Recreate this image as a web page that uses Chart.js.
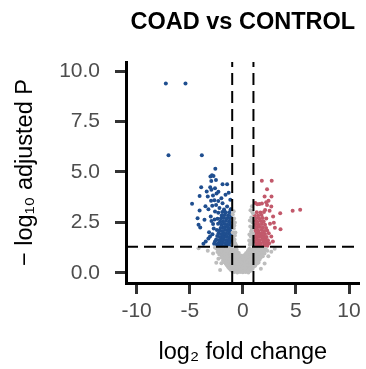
<!DOCTYPE html>
<html>
<head>
<meta charset="utf-8">
<script src="https://cdn.jsdelivr.net/npm/chart.js@4.4.1/dist/chart.umd.min.js"></script>
<style>
  body { margin: 0; background: #ffffff; }
  #wrap { width: 366px; height: 369px; }
</style>
</head>
<body>
<div id="wrap"><canvas id="volcano" width="366" height="369"></canvas></div>
<script>
// axis ranges and ticks
const xMin = -11, xMax = 11;
const yMin = -0.5, yMax = 10.45;
const xTicks = [-10, -5, 0, 5, 10];
const yTicks = [0, 2.5, 5, 7.5, 10];

// cut-offs: |log2FC| = 1 and adjusted p = 0.05
const fcCut = 1;
const pCut = 1.3;

// [log2 fold change, -log10 adjusted p]
const downRegulated = [
    [-7.25, 9.39], [-5.40, 9.39], [-7.00, 5.83], [-3.86, 5.83],
    [-2.59, 5.16], [-2.90, 4.84], [-3.05, 4.78], [-2.76, 4.80], [-2.97, 4.55], [-2.53, 4.60],
    [-3.92, 4.24], [-3.07, 4.24], [-2.62, 4.19], [-1.91, 4.39], [-1.48, 4.39], [-3.40, 4.03],
    [-2.96, 4.12], [-4.07, 3.81], [-2.81, 3.83], [-2.47, 3.94], [-1.63, 3.87], [-1.33, 3.97],
    [-4.78, 3.43], [-2.99, 3.58], [-2.68, 3.60], [-2.31, 3.56], [-1.91, 3.45], [-1.48, 3.29],
    [-4.07, 3.09], [-3.24, 3.15], [-2.62, 3.04], [-2.20, 3.22], [-4.26, 2.71], [-3.61, 2.63],
    [-4.17, 2.38], [-4.01, 2.25], [-3.18, 2.02], [-3.09, 1.81], [-3.49, 1.56], [-3.24, 1.70],
    [-2.62, 1.56], [-2.80, 2.42], [-3.02, 2.80], [-2.88, 3.33], [-2.52, 3.36], [-3.30, 3.78],
    [-3.52, 3.30], [-2.30, 4.02], [-2.02, 3.70], [-1.72, 3.05], [-1.18, 3.62], [-1.12, 3.14],
    [-2.74, 2.20], [-2.86, 1.92], [-2.70, 1.45], [-3.71, 1.44], [-2.66, 2.65], [-2.95, 2.57],
    [-1.08, 1.36], [-1.29, 1.34], [-1.52, 1.37], [-1.76, 1.33], [-1.97, 1.36], [-2.21, 1.35], [-2.46, 1.38],
    [-1.18, 1.49], [-1.41, 1.51], [-1.63, 1.48], [-1.86, 1.52], [-2.07, 1.50], [-2.32, 1.47],
    [-1.09, 1.64], [-1.31, 1.66], [-1.56, 1.63], [-1.79, 1.67], [-2.01, 1.65], [-2.26, 1.62], [-2.51, 1.66],
    [-1.16, 1.81], [-1.44, 1.79], [-1.69, 1.82], [-1.91, 1.80], [-2.16, 1.78], [-2.41, 1.83],
    [-1.08, 1.95], [-1.30, 1.97], [-1.56, 1.94], [-1.81, 1.96], [-2.04, 1.93], [-2.29, 1.97],
    [-1.21, 2.11], [-1.42, 2.09], [-1.66, 2.12], [-1.89, 2.08], [-2.18, 2.10], [-2.44, 2.13],
    [-1.10, 2.26], [-1.36, 2.24], [-1.61, 2.27], [-1.84, 2.25], [-2.09, 2.23],
    [-1.19, 2.41], [-1.46, 2.39], [-1.74, 2.42], [-2.01, 2.38], [-2.33, 2.43],
    [-1.09, 2.56], [-1.31, 2.54], [-1.59, 2.57], [-1.88, 2.55], [-2.14, 2.53],
    [-1.24, 2.71], [-1.51, 2.69], [-1.79, 2.72], [-2.06, 2.70], [-2.38, 2.68],
    [-1.11, 2.86], [-1.39, 2.84], [-1.71, 2.87], [-1.99, 2.85],
    [-1.28, 3.01], [-1.62, 2.99], [-1.94, 3.02], [-2.31, 2.98],
    [-1.14, 3.16], [-1.77, 3.14]
];

const upRegulated = [
    [1.79, 4.57], [2.72, 4.57], [2.28, 4.14], [2.70, 3.78], [2.05, 3.78], [2.42, 3.58],
    [1.57, 3.42], [1.80, 3.44], [1.36, 3.40], [2.28, 3.37], [2.68, 3.29], [3.52, 2.95],
    [4.69, 3.08], [5.40, 3.13], [3.55, 2.16], [2.68, 1.80], [2.83, 1.56], [1.18, 3.46],
    [2.92, 2.48], [3.02, 2.24], [2.10, 3.12], [2.52, 3.08], [2.20, 3.50], [2.85, 2.80],
    [1.08, 1.36], [1.31, 1.34], [1.56, 1.37], [1.79, 1.33], [2.04, 1.36], [2.31, 1.35],
    [1.19, 1.49], [1.44, 1.51], [1.69, 1.48], [1.96, 1.52], [2.21, 1.50], [2.48, 1.47],
    [1.09, 1.64], [1.34, 1.66], [1.61, 1.63], [1.86, 1.67], [2.11, 1.65], [2.36, 1.62],
    [1.21, 1.81], [1.46, 1.79], [1.71, 1.82], [1.96, 1.80], [2.24, 1.78],
    [1.08, 1.95], [1.36, 1.97], [1.61, 1.94], [1.84, 1.96], [2.09, 1.93], [2.44, 1.97],
    [1.19, 2.11], [1.46, 2.09], [1.76, 2.12], [2.01, 2.08], [2.29, 2.10],
    [1.10, 2.26], [1.34, 2.24], [1.61, 2.27], [1.89, 2.25], [2.19, 2.23],
    [1.21, 2.41], [1.49, 2.39], [1.79, 2.42], [2.09, 2.38], [2.56, 2.43],
    [1.09, 2.56], [1.36, 2.54], [1.66, 2.57], [1.96, 2.55],
    [1.26, 2.71], [1.54, 2.69], [1.86, 2.72], [2.21, 2.70],
    [1.11, 2.86], [1.44, 2.84], [1.76, 2.87],
    [1.31, 3.01], [1.66, 2.99], [1.99, 3.02]
];

const notSignificant = [
    [-0.95, 1.40], [-0.80, 1.55], [-0.90, 1.70], [-0.75, 1.85], [-0.95, 2.00], [-0.85, 2.20],
    [-0.70, 1.45], [-0.90, 2.45], [-0.82, 2.70], [-0.95, 2.90], [-0.62, 1.35], [-0.86, 3.05],
    [-0.88, 1.50], [-0.78, 1.65], [-0.92, 1.80], [-0.70, 2.00], [-0.80, 2.35], [-0.93, 2.60], [-0.75, 2.50],
    [0.95, 1.40], [0.80, 1.50], [0.65, 1.40], [0.90, 1.65], [0.75, 1.80], [0.95, 1.95],
    [0.85, 2.15], [0.70, 2.30], [0.90, 2.50], [0.80, 2.75], [0.95, 2.95], [0.72, 3.10],
    [0.86, 3.30], [0.60, 1.60],
    [0.70, 1.55], [0.88, 1.80], [0.62, 1.90], [0.78, 2.05], [0.92, 2.25], [0.66, 2.60], [0.93, 2.70], [0.85, 3.05],
    [-2.48, 1.21], [-2.18, 1.18], [-1.88, 1.22], [-1.58, 1.19], [-1.28, 1.23], [-0.98, 1.18], [-0.68, 1.22],
    [0.62, 1.20], [0.92, 1.17], [1.24, 1.22], [1.55, 1.19], [1.86, 1.21], [2.16, 1.18],
    [-2.32, 1.13], [-2.02, 1.11], [-1.72, 1.14], [-1.42, 1.12], [-1.12, 1.10], [-0.82, 1.13], [-0.58, 1.15],
    [0.52, 1.12], [0.78, 1.12], [1.08, 1.14], [1.40, 1.11], [1.70, 1.13], [2.00, 1.12], [2.30, 1.10],
    [-2.38, 1.04], [-2.08, 1.07], [-1.78, 1.03], [-1.48, 1.06], [-1.18, 1.04], [-0.88, 1.07], [-0.55, 1.03],
    [0.45, 1.05], [0.76, 1.07], [1.08, 1.03], [1.38, 1.06], [1.68, 1.04], [1.98, 1.07],
    [-2.10, 0.98], [-1.80, 0.96], [-1.50, 0.99], [-1.20, 0.97], [-0.92, 0.98], [-0.64, 0.96], [-0.38, 0.99],
    [0.30, 0.97], [0.58, 0.98], [0.86, 0.96], [1.14, 0.99], [1.44, 0.97], [1.74, 0.98], [2.04, 0.96],
    [-2.22, 0.91], [-1.93, 0.88], [-1.62, 0.92], [-1.34, 0.89], [-1.06, 0.91], [-0.78, 0.88], [-0.48, 0.92],
    [-0.20, 0.86], [0.12, 0.88], [0.38, 0.91], [0.66, 0.89], [0.94, 0.92], [1.22, 0.88], [1.52, 0.91], [1.84, 0.89],
    [-1.90, 0.83], [-1.60, 0.81], [-1.32, 0.84], [-1.04, 0.82], [-0.78, 0.80], [-0.52, 0.83], [-0.28, 0.81],
    [0.00, 0.82], [0.24, 0.80], [0.48, 0.83], [0.72, 0.81], [0.98, 0.84], [1.26, 0.82], [1.56, 0.80], [1.88, 0.83],
    [-2.02, 0.76], [-1.74, 0.73], [-1.46, 0.77], [-1.18, 0.74], [-0.92, 0.76], [-0.66, 0.73], [-0.40, 0.77],
    [-0.14, 0.74], [0.10, 0.76], [0.34, 0.73], [0.58, 0.77], [0.84, 0.74], [1.12, 0.76], [1.40, 0.73], [1.70, 0.77],
    [-1.72, 0.68], [-1.44, 0.66], [-1.16, 0.69], [-0.92, 0.67], [-0.68, 0.65], [-0.44, 0.68], [-0.20, 0.66],
    [0.04, 0.69], [0.28, 0.67], [0.52, 0.65], [0.76, 0.68], [1.02, 0.66], [1.30, 0.69], [1.58, 0.67],
    [-1.86, 0.61], [-1.58, 0.58], [-1.30, 0.62], [-1.04, 0.59], [-0.80, 0.61], [-0.56, 0.58], [-0.32, 0.62],
    [-0.08, 0.59], [0.16, 0.61], [0.40, 0.58], [0.64, 0.62], [0.90, 0.59], [1.16, 0.61], [1.44, 0.58],
    [-1.74, 0.53], [-1.46, 0.51], [-1.20, 0.54], [-0.96, 0.52], [-0.72, 0.50], [-0.48, 0.53], [-0.24, 0.51],
    [0.00, 0.54], [0.24, 0.52], [0.48, 0.50], [0.72, 0.53], [0.96, 0.51], [1.22, 0.54], [1.48, 0.52],
    [-1.62, 0.46], [-1.34, 0.43], [-1.08, 0.47], [-0.84, 0.44], [-0.60, 0.46], [-0.36, 0.43], [-0.12, 0.47],
    [0.12, 0.44], [0.36, 0.46], [0.60, 0.43], [0.84, 0.47], [1.10, 0.44], [1.34, 0.46],
    [-1.50, 0.38], [-1.26, 0.36], [-1.02, 0.39], [-0.78, 0.37], [-0.54, 0.35], [-0.30, 0.38], [-0.06, 0.36],
    [0.18, 0.39], [0.42, 0.37], [0.66, 0.35], [0.90, 0.38], [1.16, 0.36],
    [-1.40, 0.31], [-1.14, 0.28], [-0.90, 0.32], [-0.66, 0.29], [-0.42, 0.31], [-0.18, 0.28],
    [0.06, 0.32], [0.30, 0.29], [0.54, 0.31], [0.78, 0.28], [1.04, 0.32],
    [-1.28, 0.23], [-1.02, 0.21], [-0.78, 0.24], [-0.54, 0.22], [-0.30, 0.20], [-0.06, 0.23],
    [0.20, 0.21], [0.44, 0.24], [0.68, 0.22], [0.92, 0.20],
    [-1.16, 0.16], [-0.90, 0.13], [-0.64, 0.17], [-0.40, 0.14], [-0.16, 0.16], [0.08, 0.13],
    [0.32, 0.17], [0.56, 0.14], [0.82, 0.16],
    [-1.00, 0.10], [-0.76, 0.08], [-0.40, 0.09], [-0.12, 0.07], [0.14, 0.10], [0.40, 0.08], [0.68, 0.09],
    [-0.80, 0.04], [-0.52, 0.02], [-0.26, 0.05], [0.00, 0.03], [0.26, 0.04], [0.52, 0.02],
    [-4.17, 1.22], [-3.30, 1.10], [-2.80, 0.96], [-2.30, 0.70], [-2.02, 0.48], [-2.14, 0.15],
    [2.68, 1.05], [2.05, 0.47], [2.40, 0.82], [-2.62, 1.26], [3.00, 1.20], [-2.50, 0.50], [1.70, 0.20]
];

const fontFamily = "'Liberation Sans', Arial, Helvetica, sans-serif";
const toPoints = arr => arr.map(p => ({x: p[0], y: p[1]}));

function cutLine(points){
    return {
        data: points,
        showLine: true,
        borderColor: "#000000",
        borderWidth: 2,
        borderDash: [12, 6],
        pointRadius: 0,
        order: 0
    };
}

function pointSet(label, arr, color){
    return {
        label: label,
        data: toPoints(arr),
        backgroundColor: color,
        borderWidth: 0,
        pointRadius: 2,
        pointHoverRadius: 2,
        order: 1
    };
}

const ctx = document.getElementById("volcano").getContext("2d");

new Chart(ctx, {
    type: "scatter",
    data: {
        datasets: [
            cutLine([{x: -fcCut, y: yMin}, {x: -fcCut, y: yMax}]),
            cutLine([{x: fcCut, y: yMin}, {x: fcCut, y: yMax}]),
            cutLine([{x: xMin, y: pCut}, {x: xMax, y: pCut}]),
            pointSet("NS", notSignificant, "#bdbdbd"),
            pointSet("Down", downRegulated, "#1f4e8f"),
            pointSet("Up", upRegulated, "#c2596b")
        ]
    },
    options: {
        responsive: false,
        animation: false,
        layout: {padding: {left: 0, right: 3, top: 0, bottom: 0}},
        plugins: {
            legend: {display: false},
            tooltip: {enabled: false},
            title: {
                display: true,
                fullSize: false,
                text: "COAD vs CONTROL",
                color: "#000000",
                font: {family: fontFamily, size: 23.5, weight: "bold", lineHeight: 1.2},
                padding: {top: 8, bottom: 25.8}
            }
        },
        scales: {
            x: {
                type: "linear",
                min: xMin,
                max: xMax,
                afterBuildTicks: function(scale) {
                    scale.ticks = xTicks.map(v => ({value: v}));
                },
                afterFit: function(scale) {
                    scale.height = 86;
                },
                border: {display: true, color: "#000000", width: 3},
                grid: {drawOnChartArea: false, drawTicks: true, tickLength: 11, tickWidth: 3, tickColor: "#333333"},
                ticks: {
                    color: "#4d4d4d",
                    font: {family: fontFamily, size: 21},
                    padding: 5,
                    maxRotation: 0,
                    autoSkip: false,
                    callback: v => String(v)
                },
                title: {
                    display: true,
                    text: "log₂ fold change",
                    color: "#000000",
                    font: {family: fontFamily, size: 23.5, lineHeight: 1.2},
                    padding: {top: 0, bottom: 2}
                }
            },
            y: {
                type: "linear",
                min: yMin,
                max: yMax,
                afterBuildTicks: function(scale) {
                    scale.ticks = yTicks.map(v => ({value: v}));
                },
                afterFit: function(scale) {
                    scale.width = 126;
                },
                border: {display: true, color: "#000000", width: 3},
                grid: {drawOnChartArea: false, drawTicks: true, tickLength: 11, tickWidth: 3, tickColor: "#333333"},
                ticks: {
                    color: "#4d4d4d",
                    font: {family: fontFamily, size: 21},
                    padding: 15,
                    autoSkip: false,
                    callback: v => v.toFixed(1)
                },
                title: {
                    display: true,
                    text: "− log₁₀ adjusted P",
                    color: "#000000",
                    font: {family: fontFamily, size: 23.5, lineHeight: 1.2},
                    padding: {top: 11.5, bottom: 0}
                }
            }
        }
    }
});
</script>
</body>
</html>
